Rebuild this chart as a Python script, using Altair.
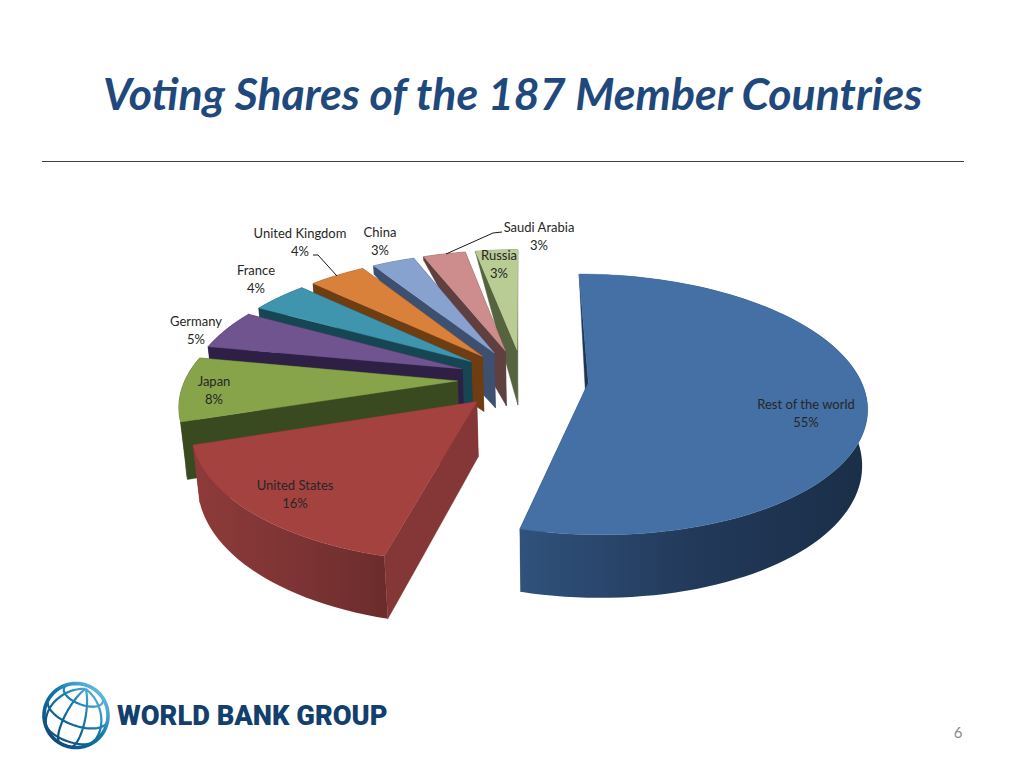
import math
import altair as alt
import pandas as pd

# ---- data ----
names = ["Rest of the world", "United States", "Japan", "Germany", "France",
         "United Kingdom", "China", "Saudi Arabia", "Russia"]
shares = [54.0, 16, 8, 5, 4, 4, 3, 3, 3]          # slice sizes as drawn
printed = ["55%", "16%", "8%", "5%", "4%", "4%", "3%", "3%", "3%"]  # labels as printed
tops = ["#4470a5", "#a44240", "#87a44b", "#6f5490", "#3f95ad",
        "#d9813a", "#88a2cf", "#cd8d8c", "#b9cc93"]
walls = ["#1f3652", "#853636", "#3a4a20", "#2e1f45", "#164654",
         "#6e3d12", "#3e506f", "#5f3f3f", "#55633f"]
outer_stops = {
    "Rest of the world": ["#30527b", "#22395a", "#1a2e47"],
    "United States": ["#8d3b3a", "#7e3434", "#6c2c2c"],
}
label_x = [806, 295, 214, 196, 256, 300, 380, 539, 499]
label_y = [405, 486, 382, 322, 271, 234, 233, 228, 256]

title_text = "Voting Shares of the 187 Member Countries"
logo_text = "WORLD BANK GROUP"
page_no = "6"

# ---- view of the exploded tilted pie ----
START = 0.0
EXPLODE = 0.241
CX, CY, S, P, B = 523.0, 379.0, 272.0, 0.165, -63.0
H_MID, H_FRONT = 55.0, 63.0
VX = 563.0


def proj(u, v, h=0.0):
    d = 1 + P * v
    x = CX + S * u / d
    y = (CY + B * v) / d
    return [x + (VX - x) * h / 3150.0, y + h]


def height(local):
    if local > 0:
        return H_MID * (1 - local)
    return H_MID + (H_FRONT - H_MID) * (-local)


def pt(a, r, m, wall=False):
    ra, rm = math.radians(a), math.radians(m)
    u = EXPLODE * math.sin(rm) + r * math.sin(ra)
    v = EXPLODE * math.cos(rm) + r * math.cos(ra)
    return proj(u, v, height(r * math.cos(ra)) if wall else 0.0)


def feature(rings):
    return {"type": "Feature", "properties": {},
            "geometry": {"type": "Polygon", "coordinates": [rings + [rings[0]]]}}


def poly_layer(rings, fill):
    base = alt.Chart(alt.Data(values=[feature(rings)]))
    if isinstance(fill, str):
        return base.mark_geoshape(fill=fill, stroke=fill, strokeWidth=0.4)
    return base.mark_geoshape(fill=fill, strokeWidth=0)


def h_grad(colors):
    n = len(colors) - 1
    return alt.LinearGradient(
        gradient="linear", x1=0, x2=1, y1=0, y2=0,
        stops=[alt.GradientStop(offset=i / n, color=c) for i, c in enumerate(colors)])


total = sum(shares)
spans = []
ang = START
for s in shares:
    spans.append((ang, ang + s / total * 360))
    ang += s / total * 360

layers = []
draw_order = [0, 8, 7, 6, 5, 4, 3, 2, 1]
for i in draw_order:
    a0, a1 = spans[i]
    m = (a0 + a1) / 2
    rs = [k / 10 for k in range(11)]
    n_arc = max(8, int((a1 - a0) / 2))
    arc = [a0 + (a1 - a0) * k / n_arc for k in range(n_arc + 1)]
    for edge in (a1, a0):
        top_edge = [pt(edge, r, m) for r in rs]
        bot_edge = [pt(edge, r, m, True) for r in reversed(rs)]
        layers.append(poly_layer(top_edge + bot_edge, walls[i]))
    outer = [pt(a, 1, m) for a in arc] + [pt(a, 1, m, True) for a in reversed(arc)]
    stops = outer_stops.get(names[i])
    layers.append(poly_layer(outer, h_grad(stops) if stops else walls[i]))
    face = [pt(0, 0, m)] + [pt(a, 1, m) for a in arc]
    layers.append(poly_layer(face, tops[i]))

# ---- scales shared by text and lines: picture pixels ----
x_scale = alt.Scale(domain=[8, 1016], range=[0, 1008], nice=False, zero=False)
y_scale = alt.Scale(domain=[760, 8], nice=False, zero=False)
X = lambda f: alt.X(f, type="quantitative", scale=x_scale, axis=None)
Y = lambda f: alt.Y(f, type="quantitative", scale=y_scale, axis=None)

rows = []
for n, s, lx, ly in zip(names, printed, label_x, label_y):
    rows.append({"x": lx, "y": ly, "t": n})
    rows.append({"x": lx, "y": ly + 18, "t": s})
labels = alt.Chart(pd.DataFrame(rows)).mark_text(
    font="Lato", fontSize=13, color="#262626", align="center", baseline="middle"
).encode(x=X("x"), y=Y("y"), text="t:N")

leaders = pd.DataFrame({
    "x": [313, 318, 337, 502, 493, 446],
    "y": [255, 255, 276, 232, 233, 254],
    "k": ["uk", "uk", "uk", "sa", "sa", "sa"],
    "o": [0, 1, 2, 0, 1, 2],
})
leader_lines = alt.Chart(leaders).mark_line(color="#1a1a1a", strokeWidth=1).encode(
    x=X("x"), y=Y("y"), detail="k:N", order="o:Q")

title = alt.Chart(pd.DataFrame({"x": [103], "y": [97], "t": [title_text]})).mark_text(
    font="Lato", fontSize=44.6, fontWeight="bold", fontStyle="italic", color="#1f497d",
    align="left", baseline="middle").encode(x=X("x"), y=Y("y"), text="t:N")

rule = alt.Chart(pd.DataFrame({"x": [42], "x2": [964], "y": [161.5]})).mark_rule(
    color="#404040", strokeWidth=1).encode(x=X("x"), x2="x2:Q", y=Y("y"))

page = alt.Chart(pd.DataFrame({"x": [958], "y": [733], "t": [page_no]})).mark_text(
    font="Lato", fontSize=15, color="#8a8a8a", align="center", baseline="middle"
).encode(x=X("x"), y=Y("y"), text="t:N")

logo_word = alt.Chart(pd.DataFrame({"x": [117], "y": [717], "t": [logo_text]})).mark_text(
    font="Roboto", fontSize=27.3, fontWeight=900, color="#123f6d",
    align="left", baseline="middle").encode(x=X("x"), y=Y("y"), text="t:N")

# ---- globe of the logo ----
GX, GY, GR = 76.0, 715.5, 32.0
TILT = math.radians(28)
ROLL = math.radians(-20)


def globe_pt(lat, lon):
    la, lo = math.radians(lat), math.radians(lon)
    x, y, z = math.cos(la) * math.sin(lo), math.sin(la), math.cos(la) * math.cos(lo)
    y, z = y * math.cos(TILT) - z * math.sin(TILT), y * math.sin(TILT) + z * math.cos(TILT)
    x, y = x * math.cos(ROLL) - y * math.sin(ROLL), x * math.sin(ROLL) + y * math.cos(ROLL)
    return [GX + GR * x, GY - GR * y], z


lines = []
for lon in (-60, -20, 20, 60):
    seg = []
    for k in range(0, 181, 5):
        p_, z = globe_pt(-90 + k, lon)
        if z >= 0:
            seg.append(p_)
    lines.append(seg)
for lat in (-30, 10, 50):
    seg = []
    for k in range(0, 361, 5):
        p_, z = globe_pt(lat, -180 + k)
        if z >= 0:
            seg.append(p_)
    lines.append(seg)
globe_stops = [alt.GradientStop(offset=0, color="#0c3f6e"),
               alt.GradientStop(offset=0.55, color="#1178ad"),
               alt.GradientStop(offset=1, color="#7fd3ef")]
globe_grad = alt.LinearGradient(gradient="linear", x1=0, y1=1, x2=1, y2=0, stops=globe_stops)
grid = alt.Chart(alt.Data(values=[{"type": "Feature", "properties": {},
    "geometry": {"type": "MultiLineString", "coordinates": lines}}])).mark_geoshape(
    filled=False, stroke=globe_grad, strokeWidth=2.2)
ring_pts = [[GX + GR * math.cos(math.radians(k)), GY + GR * math.sin(math.radians(k))]
            for k in range(0, 361, 5)]
ring = alt.Chart(alt.Data(values=[{"type": "Feature", "properties": {},
    "geometry": {"type": "LineString", "coordinates": ring_pts}}])).mark_geoshape(
    filled=False, stroke=globe_grad, strokeWidth=3.6)

chart = alt.layer(
    *layers, grid, ring, labels, leader_lines, title, rule, page, logo_word
).properties(
    width=1008, height=752,
    projection=alt.Projection(type="identity", scale=1, translate=[-8, -8]),
    padding=0, autosize=alt.AutoSizeParams(type="none"), background="white",
).configure_view(stroke=None)

chart.save("out.html", embed_options={"renderer": "svg", "actions": False})
